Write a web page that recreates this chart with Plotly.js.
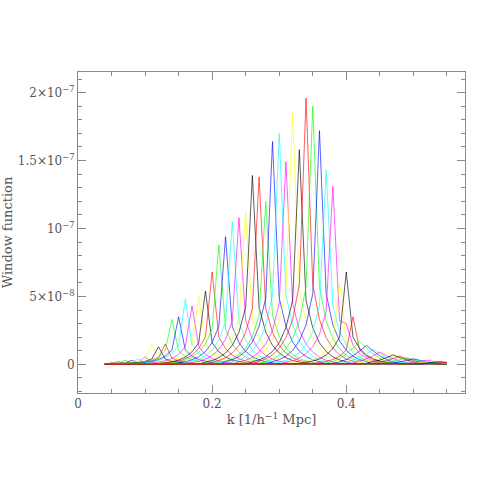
<!DOCTYPE html>
<html>
<head>
<meta charset="utf-8">
<script src="https://cdn.plot.ly/plotly-3.0.1.min.js"></script>
<style>html,body{margin:0;padding:0;background:#fff;}#chart{width:491px;height:491px;}</style>
</head>
<body>
<div id="chart"></div>
<script>
// k grid (h/Mpc) on which every window function is sampled
const kGrid = [0.04,0.05,0.06,0.07,0.08,0.09,0.10,0.11,0.12,0.13,0.14,0.15,0.16,0.17,0.18,0.19,0.20,0.21,0.22,0.23,0.24,0.25,0.26,0.27,0.28,0.29,0.30,0.31,0.32,0.33,0.34,0.35,0.36,0.37,0.38,0.39,0.40,0.41,0.42,0.43,0.44,0.45,0.46,0.47,0.48,0.49,0.50,0.51,0.52,0.53,0.54,0.55];
// centre k of each window function (one series each)
const peakK = [0.05,0.06,0.07,0.08,0.09,0.10,0.11,0.12,0.13,0.14,0.15,0.16,0.17,0.18,0.19,0.20,0.21,0.22,0.23,0.24,0.25,0.26,0.27,0.28,0.29,0.30,0.31,0.32,0.33,0.34,0.35,0.36,0.37,0.38,0.39,0.40,0.41,0.42,0.43,0.44,0.45,0.46,0.47,0.48,0.49,0.50,0.51,0.52,0.53,0.54,0.55];
// window values (units of 1e-9) at grid points peak-7 ... peak+7 (zero elsewhere)
const w05 = [0,0,0,.1,.1,.2,.3,1,.3,.2,.1,.1,0,0,0];
const w06 = [0,0,.1,.1,.2,.3,.6,2,.6,.3,.2,.1,.1,0,0];
const w07 = [0,.1,.1,.2,.3,.5,.9,3,.9,.5,.3,.2,.1,.1,0];
const w08 = [0,.1,.1,.2,.3,.5,.9,3,.9,.5,.3,.2,.1,.1,0];
const w09 = [0,.1,.1,.2,.4,.7,1.2,4,1.2,.7,.4,.2,.1,.1,0];
const w10 = [.1,.1,.2,.3,.6,.9,1.7,5.5,1.7,.9,.6,.3,.2,.1,.1];
const w11 = [.2,.3,.5,.9,1.5,2.6,4.5,15,4.5,2.6,1.5,.9,.5,.3,.2];
const w12 = [.2,.3,.5,.8,1.3,2.2,3.9,13,3.9,2.2,1.3,.8,.5,.3,.2];
const w13 = [.2,.3,.5,.9,1.5,2.6,4.5,15,4.5,2.6,1.5,.9,.5,.3,.2];
const w14 = [.4,.7,1.2,2,3.3,5.6,10,33,10,5.6,3.3,2,1.2,.7,.4];
const w15 = [.4,.7,1.2,2.1,3.5,6,10.5,35,10.5,6,3.5,2.1,1.2,.7,.4];
const w16 = [.6,1,1.7,2.9,4.8,8.2,14,48,14,8.2,4.8,2.9,1.7,1,.6];
const w17 = [.5,.9,1.5,2.6,4.3,7.3,13,43,13,7.3,4.3,2.6,1.5,.9,.5];
const w18 = [.6,1,1.8,3,5,8.5,15,50,15,8.5,5,3,1.8,1,.6];
const w19 = [.6,1.1,1.9,3.2,5.4,9.2,16,54,16,9.2,5.4,3.2,1.9,1.1,.6];
const w20 = [.8,1.4,2.4,4.1,6.8,11.6,20,68,20,11.6,6.8,4.1,2.4,1.4,.8];
const w21 = [1.1,1.8,3.1,5.3,8.8,15,26,88,26,15,8.8,5.3,3.1,1.8,1.1];
const w22 = [1.1,1.9,3.3,5.6,9.4,16,28,94,28,16,9.4,5.6,3.3,1.9,1.1];
const w23 = [1.3,2.1,3.7,6.3,10.5,18,31,105,31,18,10.5,6.3,3.7,2.1,1.3];
const w24 = [1.3,2.2,3.8,6.5,10.8,18.4,32,108,32,18.4,10.8,6.5,3.8,2.2,1.3];
const w25 = [1.3,2.2,3.9,6.7,11.2,19,34,112,34,19,11.2,6.7,3.9,2.2,1.3];
const w26 = [1.7,2.8,4.9,8.3,13.9,23.6,42,139,42,23.6,13.9,8.3,4.9,2.8,1.7];
const w27 = [1.7,2.8,4.8,8.3,13.8,23.5,41,138,41,23.5,13.8,8.3,4.8,2.8,1.7];
const w28 = [1.4,2.4,4.2,7.2,12,20.4,36,120,36,20.4,12,7.2,4.2,2.4,1.4];
const w29 = [2,3.3,5.7,9.8,16.4,28,49,164,49,28,16.4,9.8,5.7,3.3,2];
const w30 = [2,3.4,6,10.2,17,29,51,170,51,29,17,10.2,6,3.4,2];
const w31 = [1.8,3,5.2,9,15,25,45,149,45,25,15,9,5.2,3,1.8];
const w32 = [2.2,3.7,6.5,11.1,18.5,31.5,55,185,55,31.5,18.5,11.1,6.5,3.7,2.2];
const w33 = [1.9,3.2,5.5,9.5,15.8,27,47,158,47,27,15.8,9.5,5.5,3.2,1.9];
const w34 = [2.4,3.9,6.9,11.8,19.6,33,59,196,59,33,19.6,11.8,6.9,3.9,2.4];
const w35 = [2.3,3.8,6.7,11.4,19,32,57,190,57,32,19,11.4,6.7,3.8,2.3];
const w36 = [2.1,3.4,6,10.3,17.2,29,52,172,52,29,17.2,10.3,6,3.4,2.1];
const w37 = [1.7,2.9,5,8.6,14.3,24,43,143,43,24,14.3,8.6,5,2.9,1.7];
const w38 = [1.6,2.6,4.6,7.9,13,22,39,131,32,30,14,8,4.6,2.6,1.6];
const w39 = [.7,1.2,2.1,3.6,6,10,18,60,18,10,6,3.6,2.1,1.2,.7];
const w40 = [.8,1.4,2.4,4.1,6.8,11.6,20,68,20,11.6,6.8,4.1,2.4,1.4,.8];
const w41 = [.4,.7,1.2,2.1,3.5,6,10.5,35,10.5,6,3.5,2.1,1.2,.7,.4];
const w42 = [.3,.5,1,2,4.3,7.7,12,17,12,7.7,4.3,2,1,.5,.3];
const w43 = [.2,.4,.8,1.7,3.5,6.3,9.8,14,9.8,6.3,3.5,1.7,.8,.4,.2];
const w44 = [.2,.3,.7,1.3,2.8,5,7.7,11,7.7,5,2.8,1.3,.7,.3,.2];
const w45 = [.1,.3,.5,1.1,2.3,4,6.3,9,6.3,4,2.3,1.1,.5,.3,.1];
const w46 = [.1,.3,.5,1.1,2.3,4,6.3,9,6.3,4,2.3,1.1,.5,.3,.1];
const w47 = [.1,.2,.4,.8,1.8,3.2,4.9,7,4.9,3.2,1.8,.8,.4,.2,.1];
const w48 = [.1,.2,.4,.7,1.5,2.7,4.2,6,4.2,2.7,1.5,.7,.4,.2,.1];
const w49 = [.1,.2,.3,.6,1.3,2.3,3.5,5,3.5,2.3,1.3,.6,.3,.2,.1];
const w50 = [.1,.1,.2,.5,1,1.8,2.8,4,2.8,1.8,1,.5,.2,.1,.1];
const w51 = [0,.1,.2,.4,.8,1.4,2.1,3,2.1,1.4,.8,.4,.2,.1,0];
const w52 = [0,.1,.2,.4,.8,1.4,2.1,3,2.1,1.4,.8,.4,.2,.1,0];
const w53 = [0,.1,.2,.3,.6,1.1,1.8,2.5,1.8,1.1,.6,.3,.2,.1,0];
const w54 = [0,.1,.1,.2,.5,.9,1.4,2,1.4,.9,.5,.2,.1,.1,0];
const w55 = [0,0,.1,.2,.4,.7,1,1.5,1,.7,.4,.2,.1,0,0];
const windows = [w05,w06,w07,w08,w09,w10,w11,w12,w13,w14,w15,w16,w17,w18,w19,w20,w21,w22,w23,w24,w25,w26,w27,w28,w29,w30,w31,w32,w33,w34,w35,w36,w37,w38,w39,w40,w41,w42,w43,w44,w45,w46,w47,w48,w49,w50,w51,w52,w53,w54,w55];
const lineColors = ['#000000','#ff0000','#00ff00','#0000ff','#00ffff','#ff00ff','#ffff00'];
const yTickVals = [0, 5e-8, 1e-7, 1.5e-7, 2e-7];
const yTickText = ['0','5×10<sup>−8</sup>','10<sup>−7</sup>','1.5×10<sup>−7</sup>','2×10<sup>−7</sup>'];
const xTickVals = [0, 0.2, 0.4];
const xTickText = ['0','0.2','0.4'];
const UNIT = 1e-9;

const traces = windows.map((w, j) => {
  const centre = kGrid.findIndex(k => Math.abs(k - peakK[j]) < 1e-6);
  const y = kGrid.map((k, i) => {
    const o = i - centre + 7;
    return (o >= 0 && o < w.length) ? w[o] * UNIT : 0;
  });
  return {x: kGrid, y: y, type: 'scatter', mode: 'lines', opacity: 0.7,
          line: {color: lineColors[j % 7], width: 0.9}, hoverinfo: 'skip', showlegend: false};
});

const frame = '#8a8a8a';
const font = {family: 'DejaVu Serif, serif', size: 12, color: '#555'};
const titleFont = {family: 'DejaVu Serif, serif', size: 13, color: '#555'};
const layout = {
  width: 491, height: 491,
  margin: {l: 78, r: 26, t: 72, b: 98},
  paper_bgcolor: '#fff', plot_bgcolor: '#fff',
  showlegend: false,
  xaxis: {
    range: [0, 0.577], tickmode: 'array', tickvals: xTickVals, ticktext: xTickText,
    ticks: 'inside', ticklen: 8, tickwidth: 1, tickcolor: frame,
    showline: true, linecolor: frame, linewidth: 1, mirror: 'ticks',
    showgrid: false, zeroline: false, tickfont: font,
    minor: {tickmode: 'linear', tick0: 0, dtick: 0.05, ticks: 'inside', ticklen: 4, tickcolor: frame, showgrid: false},
    title: {text: 'k [1/h<sup>−1</sup> Mpc]', font: titleFont, standoff: 4}
  },
  yaxis: {
    range: [-2.11e-8, 2.152e-7], tickmode: 'array', tickvals: yTickVals, ticktext: yTickText,
    ticks: 'inside', ticklen: 8, tickwidth: 1, tickcolor: frame,
    showline: true, linecolor: frame, linewidth: 1, mirror: 'ticks',
    showgrid: false, zeroline: false, tickfont: font,
    minor: {tickmode: 'linear', tick0: 0, dtick: 1e-8, ticks: 'inside', ticklen: 4, tickcolor: frame, showgrid: false},
    title: {text: 'Window function', font: titleFont, standoff: 8}
  }
};
Plotly.newPlot('chart', traces, layout, {staticPlot: true, displayModeBar: false});
</script>
</body>
</html>
